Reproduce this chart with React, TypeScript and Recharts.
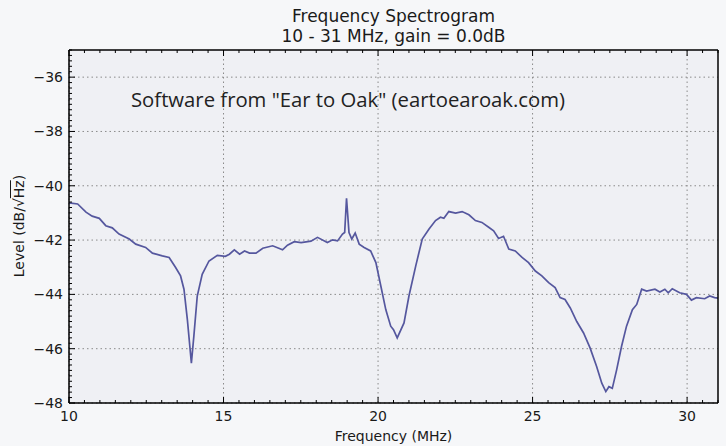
import { CartesianGrid, Line, LineChart, XAxis, YAxis } from 'recharts';

// spectrum trace
const freqMHz = [
  10.0, 10.28, 10.55, 10.75, 10.98, 11.19, 11.4, 11.62, 11.95, 12.16, 12.48, 12.7, 13.02, 13.24,
  13.45, 13.61, 13.72, 13.83, 13.96, 14.04, 14.15, 14.31, 14.53, 14.8, 15.06, 15.19, 15.35, 15.52,
  15.68, 15.84, 16.05, 16.27, 16.59, 16.91, 17.07, 17.29, 17.51, 17.83, 18.04, 18.36, 18.53, 18.69,
  18.85, 18.92, 18.98, 19.06, 19.15, 19.26, 19.39, 19.55, 19.76, 19.93, 20.09, 20.25, 20.41, 20.5,
  20.62, 20.84, 21.0, 21.22, 21.43, 21.65, 21.86, 22.02, 22.13, 22.29, 22.51, 22.72, 22.94, 23.15,
  23.36, 23.58, 23.74, 23.9, 24.06, 24.23, 24.44, 24.66, 24.87, 25.09, 25.3, 25.52, 25.73, 25.89,
  26.05, 26.22, 26.43, 26.65, 26.86, 27.07, 27.24, 27.37, 27.47, 27.58, 27.72, 27.88, 28.04, 28.23,
  28.37, 28.53, 28.69, 28.96, 29.12, 29.28, 29.39, 29.52, 29.76, 29.98, 30.14, 30.3, 30.57, 30.73,
  30.89, 31.0,
];

const levelDb = [
  -40.63, -40.67, -40.97, -41.12, -41.2, -41.47, -41.55, -41.78, -41.96, -42.15, -42.27, -42.48,
  -42.58, -42.64, -43.01, -43.32, -43.81, -44.93, -46.53, -45.54, -44.06, -43.26, -42.77, -42.56,
  -42.6, -42.52, -42.36, -42.52, -42.4, -42.48, -42.48, -42.3, -42.21, -42.36, -42.19, -42.06,
  -42.09, -42.04, -41.9, -42.09, -41.99, -42.03, -41.78, -41.72, -40.46, -41.72, -41.96, -41.74,
  -42.15, -42.27, -42.4, -42.83, -43.69, -44.56, -45.17, -45.3, -45.6, -45.05, -44.06, -42.95,
  -41.96, -41.59, -41.28, -41.16, -41.2, -40.95, -41.01, -40.95, -41.07, -41.28, -41.35, -41.53,
  -41.66, -41.94, -41.86, -42.33, -42.4, -42.64, -42.83, -43.14, -43.32, -43.57, -43.75, -44.12,
  -44.19, -44.5, -45.0, -45.42, -45.97, -46.65, -47.27, -47.58, -47.4, -47.46, -46.78, -45.91,
  -45.17, -44.56, -44.37, -43.81, -43.88, -43.81, -43.91, -43.81, -43.94, -43.79, -43.94, -44.0,
  -44.21, -44.12, -44.16, -44.06, -44.12, -44.14,
];

const xMajorTicks = [10, 15, 20, 25, 30];
const xTickLabels = ['10', '15', '20', '25', '30'];
const yMajorTicks = [-48, -46, -44, -42, -40, -38, -36];
const yTickLabels = ['−48', '−46', '−44', '−42', '−40', '−38', '−36'];

const titleLines = ['Frequency Spectrogram', '10 - 31 MHz, gain = 0.0dB'];
const xLabel = 'Frequency (MHz)';
const note = 'Software from "Ear to Oak" (eartoearoak.com)';

const X_DOMAIN: [number, number] = [10, 31];
const Y_DOMAIN: [number, number] = [-48, -35];

const chartData = freqMHz.map((freq, i) => ({ freq, level: levelDb[i] }));

// minor tick positions (0.5 MHz / 0.2 dB)
const steps = (from: number, to: number, step: number) => {
  const out: number[] = [];
  for (let v = from; v <= to + 1e-9; v += step) out.push(Math.round(v * 100) / 100);
  return out;
};
const xAllTicks = steps(10, 31, 0.5);
const yAllTicks = steps(-48, -35, 0.2);

const FONT = '"DejaVu Sans", sans-serif';
const MAJOR = 6;
const MINOR = 3;
const TICK_COLOR = '#000';

const isMajorX = (v: number) => xMajorTicks.includes(v);
const isMajorY = (v: number) => yMajorTicks.includes(v);

function BottomTick({ x, y, payload }: any) {
  const i = xMajorTicks.indexOf(payload.value);
  const len = i >= 0 ? MAJOR : MINOR;
  return (
    <g>
      <path d={`M${x},${y}V${y - len}`} stroke={TICK_COLOR} strokeWidth={1} fill="none" />
      {i >= 0 ? (
        <text x={x} y={y + 18} textAnchor="middle" fontSize={14} fontFamily={FONT} fill="#1a1a1a">
          {xTickLabels[i]}
        </text>
      ) : null}
    </g>
  );
}

function TopTick({ x, y, payload }: any) {
  const len = isMajorX(payload.value) ? MAJOR : MINOR;
  return <path d={`M${x},${y}V${y + len}`} stroke={TICK_COLOR} strokeWidth={1} fill="none" />;
}

function LeftTick({ x, y, payload }: any) {
  const i = yMajorTicks.indexOf(payload.value);
  const len = i >= 0 ? MAJOR : MINOR;
  return (
    <g>
      <path d={`M${x},${y}H${x + len}`} stroke={TICK_COLOR} strokeWidth={1} fill="none" />
      {i >= 0 ? (
        <text x={x - 6} y={y + 5} textAnchor="end" fontSize={14} fontFamily={FONT} fill="#1a1a1a">
          {yTickLabels[i]}
        </text>
      ) : null}
    </g>
  );
}

function RightTick({ x, y, payload }: any) {
  const len = isMajorY(payload.value) ? MAJOR : MINOR;
  return <path d={`M${x},${y}H${x - len}`} stroke={TICK_COLOR} strokeWidth={1} fill="none" />;
}

const axisLine = { stroke: '#000', strokeWidth: 1.5 };

export default function App() {
  return (
    <div
      style={{
        position: 'fixed',
        left: 0,
        top: 0,
        width: 726,
        height: 446,
        background: '#f6f7f9',
        fontFamily: FONT,
        color: '#1a1a1a',
      }}
    >
      <LineChart
        width={726}
        height={446}
        data={chartData}
        margin={{ top: 0, right: 0, bottom: 0, left: 0 }}
      >
        <CartesianGrid
          horizontalValues={yMajorTicks}
          verticalValues={xMajorTicks}
          fill="#eff0f4"
          fillOpacity={1}
          stroke="#8a8a8a"
          strokeDasharray="1.5 3"
          strokeWidth={1}
        />
        <XAxis
          xAxisId={0}
          dataKey="freq"
          type="number"
          domain={X_DOMAIN}
          ticks={xAllTicks}
          interval={0}
          height={43}
          tickSize={0}
          tickMargin={0}
          tickLine={false}
          axisLine={axisLine}
          tick={<BottomTick />}
        />
        <XAxis
          xAxisId="xTop"
          orientation="top"
          dataKey="freq"
          type="number"
          domain={X_DOMAIN}
          ticks={xAllTicks}
          interval={0}
          height={50}
          tickSize={0}
          tickMargin={0}
          tickLine={false}
          axisLine={axisLine}
          tick={<TopTick />}
        />
        <YAxis
          yAxisId={0}
          type="number"
          domain={Y_DOMAIN}
          ticks={yAllTicks}
          interval={0}
          width={69}
          tickSize={0}
          tickMargin={0}
          tickLine={false}
          axisLine={axisLine}
          tick={<LeftTick />}
        />
        <YAxis
          yAxisId="yRight"
          orientation="right"
          type="number"
          domain={Y_DOMAIN}
          ticks={yAllTicks}
          interval={0}
          width={8}
          tickSize={0}
          tickMargin={0}
          tickLine={false}
          axisLine={axisLine}
          tick={<RightTick />}
        />
        <Line
          xAxisId={0}
          yAxisId={0}
          dataKey="level"
          type="linear"
          stroke="#55579e"
          strokeWidth={1.7}
          dot={false}
          isAnimationActive={false}
        />
      </LineChart>

      <div
        style={{
          position: 'absolute',
          left: 69,
          width: 649,
          top: 6,
          textAlign: 'center',
          fontSize: 17,
          lineHeight: '20px',
        }}
      >
        {titleLines.map((t) => (
          <div key={t}>{t}</div>
        ))}
      </div>

      <div
        style={{
          position: 'absolute',
          left: 131,
          top: 87,
          fontFamily: '"Open Sans", sans-serif',
          fontSize: 20.3,
          lineHeight: '24px',
          whiteSpace: 'nowrap',
          color: '#222',
        }}
      >
        {note}
      </div>

      <div
        style={{
          position: 'absolute',
          left: 69,
          width: 649,
          top: 427,
          textAlign: 'center',
          fontSize: 14,
          lineHeight: '18px',
        }}
      >
        {xLabel}
      </div>

      <div
        style={{
          position: 'absolute',
          left: 19,
          top: 226,
          transform: 'translate(-50%, -50%) rotate(-90deg)',
          fontSize: 14,
          lineHeight: '18px',
          whiteSpace: 'nowrap',
        }}
      >
        Level (dB/√<span style={{ textDecoration: 'overline' }}>Hz</span>)
      </div>
    </div>
  );
}
